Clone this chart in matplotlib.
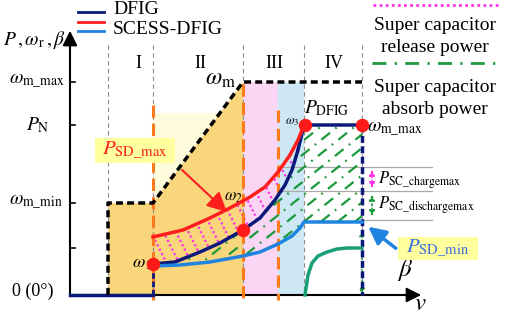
import numpy as np
import matplotlib
matplotlib.use("Agg")
import matplotlib.pyplot as plt
from matplotlib.patches import Polygon, Rectangle

plt.rcParams['font.family'] = ['Liberation Serif', 'DejaVu Serif']
plt.rcParams['mathtext.fontset'] = 'stix'

# 坐标按图片像素取（y 向下）
axis_x0, axis_y0 = 70, 295
region_x = [108, 153, 243, 304, 362]
region_names = ['I', 'II', 'III', 'IV']
region_label_x = [138, 200, 274, 334]

tick_y = [82, 125, 203, 248]
tick_labels = [r'$\omega_{\rm m\_max}$', r'$P_{\rm N}$', r'$\omega_{\rm m\_min}$', '']
tick_label_x = [9, 26, 9, 0]

# ω_m 曲线（黑色虚线）
wm_x = [108, 108, 153, 243, 362]
wm_y = [295, 203, 203, 82, 82]

# DFIG 功率曲线
dfig_x = [153, 175, 200, 220, 243, 260, 275, 285, 292, 298, 304, 362]
dfig_y = [264, 262, 252, 243, 230, 218, 200, 185, 170, 150, 125, 125]
# SCESS-DFIG 上限（红）
red_x = [153, 183, 210, 230, 250, 265, 278, 290, 298, 304]
red_y = [237, 230, 218, 208, 197, 187, 172, 155, 140, 125]
# SCESS-DFIG 下限（蓝）
blue_x = [153, 180, 210, 243, 260, 278, 292, 300, 304, 362]
blue_y = [266, 265, 262, 256, 252, 244, 236, 228, 222, 222]
# 桨距角 β（绿）
beta_x = [305, 308, 312, 318, 327, 337, 347, 362]
beta_y = [295, 275, 263, 256, 252, 249, 248, 248]

omega_pts_x = [153, 243, 305, 362]
omega_pts_y = [264, 230, 125, 125]

NAVY = '#0B1A7A'
RED = '#FF1E1E'
BLUE = '#1E84E0'
ORANGE = '#FF7A1A'
GREEN = '#1A9A3C'
TEAL = '#1A9E78'
MAGENTA = '#FF30E8'

fig = plt.figure(figsize=(5.05, 3.14), dpi=100)
ax = fig.add_axes([0, 0, 1, 1])
ax.set_xlim(0, 505)
ax.set_ylim(314, 0)
ax.axis('off')

# 背景填充
ax.add_patch(Rectangle((153, 113), 90, 90, fc='#FFFBDD', ec='none', zorder=0))
ax.add_patch(Polygon([(108, 295), (108, 203), (153, 203), (243, 82), (243, 295)],
                     fc='#F9D67C', ec='none', zorder=0.5))
ax.add_patch(Rectangle((243, 82), 35, 213, fc='#FAD6F4', ec='none', zorder=0.5))
ax.add_patch(Rectangle((278, 82), 26, 213, fc='#CDE8F4', ec='none', zorder=0.5))

# 区域分隔线
for x in region_x:
    ax.plot([x, x], [45, 295], color='#8A8A8A', lw=0.8, ls=(0, (4, 3)), zorder=1)
for name, x in zip(region_names, region_label_x):
    ax.text(x, 63, name, ha='center', va='center', fontsize=13)

# 水平灰线
ax.plot([280, 432], [167, 167], color='#AAAAAA', lw=0.9, zorder=1)
ax.plot([280, 432], [191, 191], color='#AAAAAA', lw=0.9, zorder=1)
ax.plot([362, 432], [220, 220], color='#AAAAAA', lw=0.9, zorder=1)


def hatch(poly, xs, dx, dy, **kw):
    patch = Polygon(poly, closed=True, fc='none', ec='none')
    ax.add_patch(patch)
    for c in xs:
        ln, = ax.plot([c, c + dx], [100, 100 + dy], **kw)
        ln.set_clip_path(patch)


red_poly = list(zip(red_x, red_y)) + list(zip(dfig_x[:11], dfig_y[:11]))[::-1]
hatch(red_poly, np.arange(60, 300, 12.5), 100, 200, color=MAGENTA, lw=1.6,
      ls=(0, (1, 1.2)), zorder=2)
green_poly = list(zip(dfig_x, dfig_y)) + list(zip(blue_x, blue_y))[::-1]
hatch(green_poly, np.arange(150, 560, 17), -250, 200, color=GREEN, lw=1.6,
      ls=(0, (5, 3, 0.8, 3)), zorder=2)

# 轴
ax.annotate('', xy=(70, 28), xytext=(70, 296),
            arrowprops=dict(arrowstyle='-|>', color='k', lw=1.5, mutation_scale=22))
ax.annotate('', xy=(424, 295), xytext=(69, 295),
            arrowprops=dict(arrowstyle='-|>', color='k', lw=1.5, mutation_scale=22))
for y, lab, lx in zip(tick_y, tick_labels, tick_label_x):
    ax.plot([70, 75], [y, y], color='k', lw=1.2)
    ax.text(lx, y, lab, ha='left', va='center', fontsize=14)
ax.text(12, 291, '0 (0°)', ha='left', va='center', fontsize=13)
ax.text(3, 40, r'$P\,,\omega_{\rm r}\,,\beta$', ha='left', va='center', fontsize=14)

# 橙色虚线
for x, top in [(153, 105), (243, 84), (278, 110)]:
    ax.plot([x, x], [top, 300], color=ORANGE, lw=2.2, ls=(0, (4, 2)), zorder=3)

# 曲线
ax.plot([70, 153], [295, 295], color=NAVY, lw=2.5, zorder=4)
ax.plot([153, 153], [295, 264], color=NAVY, lw=2, ls=(0, (2, 1)), zorder=4)
ax.plot(dfig_x, dfig_y, color=NAVY, lw=2.5, zorder=4)
ax.plot([362, 362], [125, 295], color=NAVY, lw=2.5, ls=(0, (2, 1)), zorder=4)
ax.plot(red_x, red_y, color=RED, lw=2.5, zorder=5)
ax.plot(blue_x, blue_y, color=BLUE, lw=2.5, zorder=4)
ax.plot(beta_x, beta_y, color=TEAL, lw=2.5, zorder=4)
ax.plot(wm_x, wm_y, color='k', lw=2.5, ls=(0, (2, 1.2)), zorder=5)
ax.scatter(omega_pts_x, omega_pts_y, s=75, color='#FF1A1A', zorder=6)

ax.text(132, 263, r'$\omega_1$', ha='left', va='center', fontsize=13)
ax.text(233, 197, r'$\omega_2$', ha='center', va='center', fontsize=12)
ax.text(292, 122, r'$\omega_3$', ha='center', va='center', fontsize=9)
ax.text(205, 80, r'$\omega_{\rm m}$', ha='left', va='center', fontsize=17)
ax.text(304, 108, r'$P_{\rm DFIG}$', ha='left', va='center', fontsize=14)
ax.text(367, 130, r'$\omega_{\rm m\_max}$', ha='left', va='center', fontsize=14)

# 超级电容功率箭头
ax.annotate('', xy=(372, 167), xytext=(372, 191),
            arrowprops=dict(arrowstyle='<|-|>', color=MAGENTA, lw=1.2, ls=':', mutation_scale=8))
ax.annotate('', xy=(372, 192), xytext=(372, 219),
            arrowprops=dict(arrowstyle='<|-|>', color=GREEN, lw=1.2, ls=':', mutation_scale=8))
ax.annotate('', xy=(362, 228), xytext=(362, 297),
            arrowprops=dict(arrowstyle='<|-|>', color=GREEN, lw=1, ls=':', mutation_scale=8),
            zorder=3)
ax.text(378, 180, r'$P_{\rm SC\_chargemax}$', ha='left', va='center', fontsize=12)
ax.text(378, 205, r'$P_{\rm SC\_dischargemax}$', ha='left', va='center', fontsize=12)

# 标注框
ax.add_patch(Rectangle((95, 138), 80, 25, fc='#FFFF9E', ec='none', zorder=6))
ax.text(135, 150, r'$P_{\rm SD\_max}$', color=RED, ha='center', va='center', fontsize=15, zorder=7)
ax.annotate('', xy=(229, 214), xytext=(180, 168),
            arrowprops=dict(arrowstyle='-|>', color=RED, lw=1.5, mutation_scale=30), zorder=7)
ax.add_patch(Rectangle((398, 237), 80, 23, fc='#FFFF9E', ec='none', zorder=6))
ax.text(438, 248, r'$P_{\rm SD\_min}$', color='#3D6FE0', ha='center', va='center', fontsize=15, zorder=7)
ax.annotate('', xy=(366, 225), xytext=(398, 250),
            arrowprops=dict(arrowstyle='-|>', color=BLUE, lw=2.5, mutation_scale=26), zorder=7)
ax.text(405, 270, r'$\beta$', ha='center', va='center', fontsize=18)
ax.text(420, 304, r'$v$', ha='center', va='center', fontsize=18)

# 图例
ax.plot([78, 104], [12, 12], color=NAVY, lw=2)
ax.plot([78, 104], [22, 22], color=RED, lw=2)
ax.plot([78, 104], [31, 31], color=BLUE, lw=2)
ax.text(113, 10, 'DFIG', ha='left', va='center', fontsize=14)
ax.text(113, 29, 'SCESS-DFIG', ha='left', va='center', fontsize=14)

ax.plot([373, 498], [5, 5], color=MAGENTA, lw=2, ls=(0, (1, 1.2)))
ax.text(435, 25, 'Super capacitor', ha='center', va='center', fontsize=14)
ax.text(435, 47, 'release power', ha='center', va='center', fontsize=14)
ax.plot([372, 502], [63, 63], color=GREEN, lw=2, ls=(0, (5, 3, 0.8, 3)))
ax.text(435, 88, 'Super capacitor', ha='center', va='center', fontsize=14)
ax.text(435, 110, 'absorb power', ha='center', va='center', fontsize=14)

fig.savefig('out.png', dpi=100)
